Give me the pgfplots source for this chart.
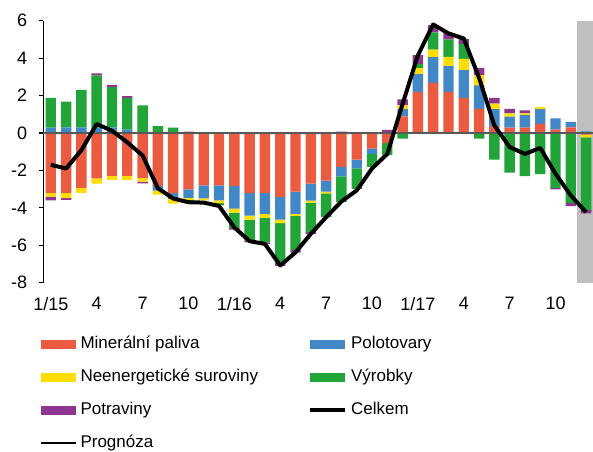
\documentclass[border=0pt]{standalone}
\usepackage{pgfplots}
\pgfplotsset{compat=1.18}
\usepackage{pgfplotstable}
\usepackage{fontspec}
\setmainfont{Liberation Sans}
\definecolor{cRed}{HTML}{EB5B40}
\definecolor{cBlue}{HTML}{4287C6}
\definecolor{cYellow}{HTML}{FFDD00}
\definecolor{cGreen}{HTML}{22A538}
\definecolor{cPurple}{HTML}{8E3590}

\pgfplotstableread{
x r b y g p
0 0 0.28 0 1.60 0
1 0 0.30 0 1.38 0
2 0 0.30 0 2.00 0
3 0 0.30 0 2.78 0.10
4 0 0.30 0 2.15 0.12
5 0 0.18 0 1.70 0.09
6 0 0 0 1.48 0
7 0 0 0 0.37 0
8 0 0 0 0.28 0
9 0 0 0 0 0.07
10 0 0 0 0 0
11 0 0 0 0 0
12 0 0 0 0 0
13 0 0 0 0 0
14 0 0 0 0 0
15 0 0 0 0 0
16 0 0 0 0 0
17 0 0 0 0 0
18 0 0 0 0 0
19 0 0 0 0 0.07
20 0 0 0 0 0
21 0 0 0 0 0
22 0 0 0.04 0 0.12
23 0.89 0.38 0.20 0 0.32
24 2.20 0.95 0.31 0.23 0.47
25 2.68 1.38 0.40 0.92 0.38
26 2.20 1.37 0.50 0.93 0.32
27 1.88 1.48 0.60 0.80 0.27
28 1.29 1.26 0.54 0 0.39
29 0.36 0.91 0.30 0 0.31
30 0.29 0.58 0.18 0 0.24
31 0.28 0.67 0.10 0 0.16
32 0.49 0.79 0.10 0 0
33 0.18 0.60 0 0 0
34 0.30 0.29 0 0 0
35 0 0.09 0 0 0
}\tpos

\pgfplotstableread{
x r b y g p
0 -3.20 0 -0.20 0 -0.20
1 -3.20 0 -0.28 0 -0.10
2 -2.93 0 -0.27 0 0
3 -2.43 0 -0.27 0 0
4 -2.29 0 -0.21 0 0
5 -2.29 0 -0.21 0 0
6 -2.40 0 -0.20 0 -0.09
7 -2.83 -0.25 -0.21 0 0
8 -3.22 -0.30 -0.25 0 0
9 -3.02 -0.45 -0.10 -0.12 0
10 -2.80 -0.70 -0.10 0 0
11 -2.80 -0.80 -0.15 -0.12 0
12 -2.82 -1.22 -0.21 -0.82 -0.10
13 -3.21 -1.20 -0.22 -1.12 -0.09
14 -3.21 -1.11 -0.22 -1.30 -0.09
15 -3.43 -1.20 -0.19 -2.18 -0.10
16 -3.14 -1.18 -0.11 -1.82 -0.14
17 -2.71 -0.90 -0.12 -1.57 -0.10
18 -2.54 -0.59 -0.10 -1.27 0
19 -1.81 -0.51 0 -1.37 0
20 -1.42 -0.47 0 -1.10 0
21 -0.84 -0.27 0 -0.70 0
22 -0.53 0 0 -0.66 0
23 0 0 0 -0.30 0
24 0 0 0 0 0
25 0 0 0 0 0
26 0 0 0 0 0
27 0 0 0 0 0
28 0 0 0 -0.30 0
29 0 0 0 -1.43 0
30 0 0 0 -2.12 0
31 0 0 0 -2.31 0
32 0 0 0 -2.20 0
33 0 0 0 -2.94 -0.08
34 0 0 0 -3.73 -0.18
35 -0.09 0 -0.14 -3.89 -0.18
}\tneg

\pgfplotstableread{
x c
0 -1.70
1 -1.90
2 -0.92
3 0.48
4 0.12
5 -0.50
6 -1.20
7 -2.95
8 -3.50
9 -3.70
10 -3.72
11 -3.90
12 -5.05
13 -5.78
14 -5.93
15 -7.08
16 -6.38
17 -5.39
18 -4.50
19 -3.66
20 -3.07
21 -1.90
22 -1.12
23 1.55
24 4.15
25 5.80
26 5.32
27 5.05
28 2.95
29 0.40
30 -0.75
31 -1.12
32 -0.80
33 -2.18
34 -3.34
35 -4.23
}\tline

\pgfplotsset{
  common/.style={width=549.85pt, height=262pt, scale only axis,
    xmin=-0.5, xmax=35.45, ymin=-8, ymax=6},
  hiddenbars/.style={common, axis lines=none, ticks=none, ybar stacked, bar width=0.68},
  barleg/.style={legend image code/.code={\fill[##1, draw=none] (0pt,-4.5pt) rectangle (35pt,4.5pt);}},
  lineleg/.style={legend image code/.code={\draw[##1] (0pt,0pt) -- (35pt,0pt);}},
}

\begin{document}
\begin{tikzpicture}
\begin{axis}[common, axis lines=none, ticks=none]
  \fill[black!25] (axis cs:34.4,-8) rectangle (axis cs:35.45,6);
\end{axis}
\begin{axis}[hiddenbars]
  \addplot[fill=cRed, draw=none] table[x=x,y=r]{\tneg};
  \addplot[fill=cBlue, draw=none] table[x=x,y=b]{\tneg};
  \addplot[fill=cYellow, draw=none] table[x=x,y=y]{\tneg};
  \addplot[fill=cGreen, draw=none] table[x=x,y=g]{\tneg};
  \addplot[fill=cPurple, draw=none] table[x=x,y=p]{\tneg};
\end{axis}
\begin{axis}[hiddenbars]
  \addplot[fill=cRed, draw=none] table[x=x,y=r]{\tpos};
  \addplot[fill=cBlue, draw=none] table[x=x,y=b]{\tpos};
  \addplot[fill=cYellow, draw=none] table[x=x,y=y]{\tpos};
  \addplot[fill=cGreen, draw=none] table[x=x,y=g]{\tpos};
  \addplot[fill=cPurple, draw=none] table[x=x,y=p]{\tpos};
\end{axis}
\begin{axis}[common, name=ax,
  axis lines*=left,
  x axis line style={draw=none},
  y axis line style={black, line width=1.1pt},
  xtick={0,3,...,33},
  xticklabels={1/15,4,7,10,1/16,4,7,10,1/17,4,7,10},
  ytick={-8,-6,-4,-2,0,2,4,6},
  yticklabels={-8,-6,-4,-2,0,2,4,6},
  major x tick style={draw=none},
  major y tick style={black, line width=1.1pt},
  tick align=outside,
  major tick length=4.5pt,
  tick label style={font=\fontsize{18}{21}\selectfont},
  yticklabel style={xshift=-8pt},
  xticklabel style={yshift=-6.5pt},
  legend style={draw=none, fill=none, inner sep=0pt, outer sep=0pt,
    at={(0,0)}, anchor=north west, xshift=-3.15pt, yshift=-53.5pt,
    font=\fontsize{17}{20}\selectfont,
    row sep=17pt,
    nodes={text height=12.5pt, text depth=3.5pt, inner sep=0pt},
    /tikz/every odd column/.append style={column sep=4pt},
    /tikz/every even column/.append style={column sep=50pt}},
  legend columns=2,
  legend cell align=left,
]
  \draw[black!65, line width=1.3pt] (axis cs:-0.5,0) -- (axis cs:35.45,0);
  \addlegendimage{barleg, fill=cRed}
  \addlegendimage{barleg, fill=cBlue}
  \addlegendimage{barleg, fill=cYellow}
  \addlegendimage{barleg, fill=cGreen}
  \addlegendimage{barleg, fill=cPurple}
  \addplot[black, line width=4pt, line join=round, mark=none, lineleg] table[x=x,y=c]{\tline};
  \addlegendimage{lineleg, black, line width=1.5pt}
  \legend{Minerální paliva, Polotovary, Neenergetické suroviny, Výrobky, Potraviny, Celkem, Prognóza}
\end{axis}
\pgfresetboundingbox
\path ([xshift=-43.15pt,yshift=-169.3pt]ax.south west) rectangle ([yshift=20.7pt]ax.north east);
\end{tikzpicture}
\end{document}
